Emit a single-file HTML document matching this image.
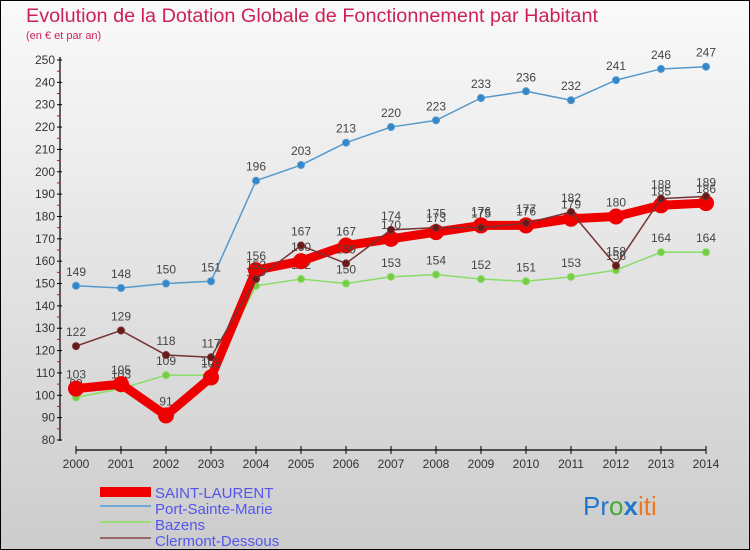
<!DOCTYPE html>
<html><head><meta charset="utf-8"><style>
body{margin:0;width:750px;height:550px;overflow:hidden}
svg{display:block;font-family:"Liberation Sans",sans-serif}
</style></head><body>
<svg width="750" height="550" viewBox="0 0 750 550">
<defs><linearGradient id="bg" x1="0" y1="0" x2="0" y2="1"><stop offset="0" stop-color="#fafafa"/><stop offset="1" stop-color="#cccccc"/></linearGradient></defs>
<rect x="0.5" y="0.5" width="749" height="549" fill="url(#bg)" stroke="#000"/>
<text x="26" y="22" font-size="19" fill="#cc2255" textLength="572" lengthAdjust="spacingAndGlyphs">Evolution de la Dotation Globale de Fonctionnement par Habitant</text>
<text x="26" y="39" font-size="11" fill="#cc2255">(en € et par an)</text>
<g id="axes"></g>
<g id="series"></g>
<g id="legend" font-size="15" fill="#5555ee">
<rect x="100" y="487" width="51" height="10" fill="#ee0000"/>
<text x="155" y="498">SAINT-LAURENT</text>
<rect x="100" y="505" width="51" height="2" fill="#6fa8d8"/>
<text x="155" y="514">Port-Sainte-Marie</text>
<rect x="100" y="521" width="51" height="2" fill="#99dd77"/>
<text x="155" y="530">Bazens</text>
<rect x="100" y="537" width="51" height="2" fill="#996666"/>
<text x="155" y="546">Clermont-Dessous</text>
</g>
<text x="583" y="515" font-size="26"><tspan fill="#2277cc">Pr</tspan><tspan fill="#44aa33">o</tspan><tspan fill="#2277cc" font-weight="bold">x</tspan><tspan fill="#ee7722">iti</tspan></text>
</svg>
<script>
const years=[2000,2001,2002,2003,2004,2005,2006,2007,2008,2009,2010,2011,2012,2013,2014];
const yTicks=[80,90,100,110,120,130,140,150,160,170,180,190,200,210,220,230,240,250];
const saintLaurent=[103,105,91,108,156,160,167,170,173,176,176,179,180,185,186];
const portSainteMarie=[149,148,150,151,196,203,213,220,223,233,236,232,241,246,247];
const bazens=[99,103,109,109,149,152,150,153,154,152,151,153,156,164,164];
const clermont=[122,129,118,117,152,167,159,174,175,175,177,182,158,188,189];
const NS="http://www.w3.org/2000/svg";
const X=i=>76+i*45;
const Y=v=>440-(v-80)*380/170;
function mk(t,a,p){const e=document.createElementNS(NS,t);for(const k in a)e.setAttribute(k,a[k]);p.appendChild(e);return e;}
const ax=document.getElementById('axes');
let e=mk('line',{x1:60,y1:57,x2:60,y2:441,stroke:'#000','stroke-width':1.2},ax);


e=mk('line',{x1:76,y1:450,x2:706,y2:450,stroke:'#000','stroke-width':1.2},ax);


yTicks.forEach((v,i)=>{
  mk('line',{x1:57,x2:62,y1:Y(v),y2:Y(v),stroke:'#000'},ax);
  if(i<yTicks.length-1)mk('line',{x1:57,x2:60,y1:Y(v+5),y2:Y(v+5),stroke:'#e00'},ax);
  const t=mk('text',{x:55,y:Y(v)+4,'font-size':12,'text-anchor':'end',fill:'#333'},ax);
  t.textContent=v;
  
  
});
years.forEach((y,i)=>{
  mk('line',{x1:X(i),x2:X(i),y1:446,y2:454,stroke:'#000'},ax);
  const t=mk('text',{x:X(i),y:468,'font-size':12,'text-anchor':'middle',fill:'#333'},ax);
  t.textContent=y;
  
  
});
const sg=document.getElementById('series');
function draw(vals,name,color,w,r,dot){
  const g=mk('g',{},sg);
  
  
  const pl=mk('polyline',{points:vals.map((v,i)=>X(i)+','+Y(v)).join(' '),fill:'none',stroke:color,'stroke-width':w,'stroke-linejoin':'round'},g);
  
  
  vals.forEach((v,i)=>{
    const c=mk('circle',{cx:X(i),cy:Y(v),r:r,fill:dot,stroke:color,'stroke-width':1},g);
    
    
    const t=mk('text',{x:X(i),y:Y(v)-10,'font-size':12,'text-anchor':'middle',fill:'#444'},g);
    t.textContent=v;
    
    
  });
}
draw(bazens,'bazens','#88dd66',1.5,3.5,'#77cc44');
draw(portSainteMarie,'port-sainte-marie','#5599cc',1.5,3.5,'#3388cc');
draw(saintLaurent,'saint-laurent','#ee0000',9,7.5,'#ee0000');
draw(clermont,'clermont-dessous','#773333',1.5,3.5,'#661a1a');
</script>
</body></html>
